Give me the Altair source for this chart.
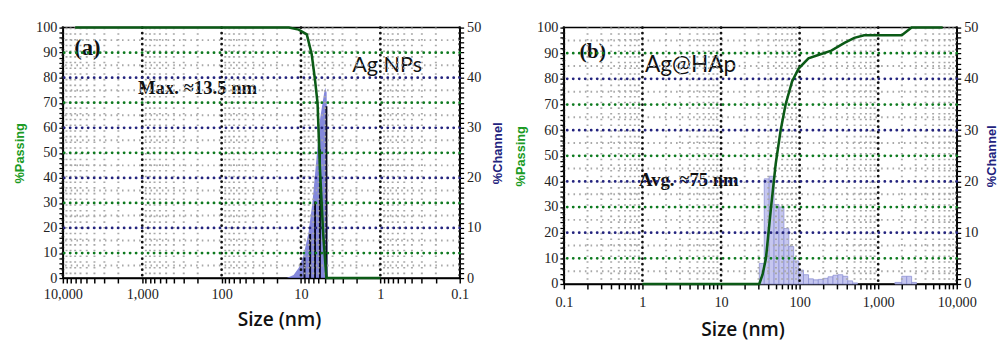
import altair as alt
import pandas as pd

# ---------------- data ----------------
# Panel (a): Ag NPs
a_pass_size = [7000, 1000, 100, 20, 14.2, 10.7, 8.45, 7.33, 6.65, 6.18, 5.77, 5.25, 4.78, 3.0, 1.0]
a_pass_val = [100, 100, 100, 100, 100, 99.2, 97.3, 89.4, 79.0, 69.8, 43.6, 17.6, 0, 0, 0]
a_env_size = [15.1, 12.4, 10.7, 9.3, 8.05, 7.18, 6.41, 5.72, 5.10, 4.95, 4.75, 4.6]
a_env_val = [0, 0.6, 2.0, 4.5, 9.0, 15.0, 23.5, 32.0, 37.0, 38.0, 37.0, 0]
a_line_size = [9.02, 7.67, 6.65, 5.77, 4.78]
a_line_val = [4.1, 8.8, 15.3, 25.7, 34.3]

# Panel (b): Ag@HAp
b_pass_size = [1, 10, 30.7, 33.8, 37.3, 43, 49.7, 57.4, 66.3, 80.2, 97.2, 129.6, 172.8,
               253.5, 372, 497, 662, 1995, 2660, 6620]
b_pass_val = [0, 0, 0, 3.7, 10, 29, 47, 60, 70, 79, 84, 88, 89.3, 91, 94, 96, 97, 97, 100, 100]
b_bin_lo = [30.7, 35.5, 41.0, 47.3, 54.6, 63.1, 72.9, 84.1, 97.2, 112, 130, 150, 173, 200,
            230, 266, 307, 355, 410, 473, 1632, 1995, 2304, 2661]
b_bin_hi = [35.5, 41.0, 47.3, 54.6, 63.1, 72.9, 84.1, 97.2, 112, 130, 150, 173, 200, 230,
            266, 307, 355, 410, 473, 546, 1995, 2304, 2661, 3073]
b_bin_val = [4.0, 20.5, 21.0, 15.5, 15.0, 10.8, 7.3, 4.5, 2.7, 1.8, 1.0, 0.8, 0.9, 1.1,
             1.4, 1.7, 1.8, 1.5, 0.6, 0.2, 0.3, 1.5, 1.5, 0.3]

# grid / tick positions
decades = [0.1, 1, 10, 100, 1000, 10000]
minor_x = [round(k * d, 6) for d in [0.1, 1, 10, 100, 1000] for k in range(2, 10)]
all_x_ticks = sorted(decades + minor_x)
green_levels = [10, 30, 50, 70, 90]
navy_levels = [20, 40, 60, 80]
minor_levels = [5, 15, 25, 35, 45, 55, 65, 75, 85, 95]

GREEN = "#0d7a1f"
NAVY = "#23237e"
LINE_GREEN = "#0b5a16"
TICK_FONT = "Liberation Sans Narrow"

label_expr_x = ("abs(log(datum.value)/LN10 - round(log(datum.value)/LN10)) < 0.001 ? "
                "(datum.value < 1 ? '0.1' : format(datum.value, ',')) : ''")


def make_x_axis(title_x, title_pad, label_pad):
    return alt.Axis(values=all_x_ticks, labelExpr=label_expr_x, title="Size (nm)",
                    grid=False, tickSize=5, tickWidth=1.5, labelFont=TICK_FONT, labelFontSize=14.5,
                    labelColor="#222", titleFont="Open Sans", titleFontWeight=600,
                    titleFontSize=19.5, titleColor="#111", titlePadding=title_pad, titleX=title_x,
                    domainColor="black", domainWidth=1.5, tickColor="black", labelPadding=label_pad,
                    labelFlush=False)


y_axis = alt.Axis(orient="left", values=list(range(0, 101, 2)),
                  labelExpr="datum.value % 10 == 0 ? datum.label : ''",
                  title="%Passing", titleColor="#1a9a24", titleFont="Liberation Sans",
                  titleFontWeight="bold", titleFontSize=13, titlePadding=9,
                  grid=False, tickSize=4, tickWidth=1.3, labelFont=TICK_FONT, labelFontSize=14.5,
                  labelColor="#222", domainColor="black", domainWidth=1.5, tickColor="black",
                  labelPadding=2)


def make_ch_axis(title_pad):
    return alt.Axis(orient="right", values=list(range(0, 51, 1)),
                    labelExpr="datum.value % 10 == 0 ? datum.label : ''",
                    title="%Channel", titleColor=NAVY, titleFont="Liberation Sans",
                    titleFontWeight="bold", titleFontSize=13, titleAngle=270, titlePadding=title_pad,
                    grid=False, tickSize=4, tickWidth=1.3, labelFont=TICK_FONT, labelFontSize=14.5,
                    labelColor="#222", domainColor="black", domainWidth=1.5, tickColor="black",
                    labelPadding=3)


def panel(reverse, pass_size, pass_val, w, h, texts, hist_layers, x_axis, ch_axis):
    xs = alt.Scale(type="log", domain=[0.1, 10000], reverse=reverse, nice=False)
    ys = alt.Scale(domain=[0, 100], nice=False)

    def X(f):
        return alt.X(f, scale=xs, axis=x_axis, title="Size (nm)")

    def Y(f):
        return alt.Y(f, scale=ys, axis=y_axis, title="%Passing")

    def CH(f):
        return alt.Y(f, scale=alt.Scale(domain=[0, 50], nice=False), axis=ch_axis, title="%Channel")

    vmin = pd.DataFrame({"x": minor_x})
    hmin = pd.DataFrame({"y": minor_levels})
    vmaj = pd.DataFrame({"x": decades})
    hg = pd.DataFrame({"y": green_levels})
    hn = pd.DataFrame({"y": navy_levels})

    g_vmin = alt.Chart(vmin).mark_rule(color="#a8a8a8", strokeDash=[1.6, 4.2], strokeWidth=2).encode(x=X("x:Q"))
    g_hmin = alt.Chart(hmin).mark_rule(color="#a8a8a8", strokeDash=[1.6, 4.2], strokeWidth=2).encode(y=Y("y:Q"))
    g_vmaj = alt.Chart(vmaj).mark_rule(color="#111", strokeDash=[0.1, 5.5], strokeCap="round",
                                       strokeWidth=2.8).encode(x=X("x:Q"))
    g_hg = alt.Chart(hg).mark_rule(color=GREEN, strokeDash=[0.1, 6], strokeCap="round",
                                   strokeWidth=2.8).encode(y=Y("y:Q"))
    g_hn = alt.Chart(hn).mark_rule(color=NAVY, strokeDash=[0.1, 6], strokeCap="round",
                                   strokeWidth=2.8).encode(y=Y("y:Q"))

    text_layers = []
    for t in texts:
        tdf = pd.DataFrame({"x": [t["x"]], "y": [t["y"]], "t": [t["text"]]})
        text_layers.append(
            alt.Chart(tdf).mark_text(font=t["font"], fontSize=t["size"], fontWeight=t["weight"],
                                     align=t["align"], color="#111", baseline="middle").encode(
                x=X("x:Q"), y=Y("y:Q"), text="t:N"))

    pdf = pd.DataFrame({"x": pass_size, "y": pass_val})
    pline = alt.Chart(pdf).mark_line(color=LINE_GREEN, strokeWidth=2.6, interpolate="linear").encode(
        x=X("x:Q"), y=Y("y:Q"))

    pass_layer = alt.layer(*text_layers, g_vmin, g_hmin, g_vmaj, g_hg, g_hn, pline)
    hist_layer = alt.layer(*[f(X, CH) for f in hist_layers])
    return alt.layer(hist_layer, pass_layer).resolve_scale(y="independent").properties(
        width=w, height=h, view=alt.ViewBackground(stroke="black", strokeWidth=1.5))


def a_area(X, CH):
    df = pd.DataFrame({"x": a_env_size, "y": a_env_val})
    return alt.Chart(df).mark_area(color="#6f73d6", opacity=0.85, interpolate="linear").encode(
        x=X("x:Q"), y=CH("y:Q"))


def a_rules(X, CH):
    df = pd.DataFrame({"x": a_line_size, "y": a_line_val, "z": [0] * len(a_line_size)})
    return alt.Chart(df).mark_rule(color="#0a0a1e", strokeWidth=2).encode(
        x=X("x:Q"), y=CH("y:Q"), y2="z:Q")


def b_bars(X, CH):
    df = pd.DataFrame({"lo": b_bin_lo, "hi": b_bin_hi, "v": b_bin_val, "z": [0] * len(b_bin_val)})
    return alt.Chart(df).mark_bar(color="#c5c6ef", stroke="#8e91d4", strokeWidth=0.8).encode(
        x=X("lo:Q"), x2="hi:Q", y=CH("v:Q"), y2="z:Q")


texts_a = [
    {"x": 7200, "y": 92, "text": "(a)", "font": "Liberation Serif", "size": 23, "weight": "bold", "align": "left"},
    {"x": 0.82, "y": 85, "text": "Ag NPs", "font": "Lato", "size": 22, "weight": "normal", "align": "center"},
    {"x": 201, "y": 76, "text": "Max. \u224813.5 nm", "font": "Liberation Serif", "size": 19, "weight": "bold", "align": "center"},
]
texts_b = [
    {"x": 0.158, "y": 91, "text": "(b)", "font": "Liberation Serif", "size": 22, "weight": "bold", "align": "left"},
    {"x": 4.1, "y": 85.5, "text": "Ag@HAp", "font": "Lato", "size": 23, "weight": "normal", "align": "center"},
    {"x": 3.9, "y": 40.6, "text": "Avg. \u224875 nm", "font": "Liberation Serif", "size": 19, "weight": "bold", "align": "center"},
]

pa = panel(True, a_pass_size, a_pass_val, 404, 255, texts_a, [a_area, a_rules],
           make_x_axis(220, 10, 5), make_ch_axis(24))
pb = panel(False, b_pass_size, b_pass_val, 400, 261, texts_b, [b_bars],
           make_x_axis(182, 12, 7), make_ch_axis(21))

chart = alt.hconcat(pa, pb, spacing=8).resolve_scale(x="independent", y="independent").properties(
    padding={"left": 13, "top": 16, "right": 0, "bottom": 0}, background="white"
).configure_view(stroke="black", strokeWidth=1.5)

chart.save("out.html", embed_options={"renderer": "svg", "actions": False})
